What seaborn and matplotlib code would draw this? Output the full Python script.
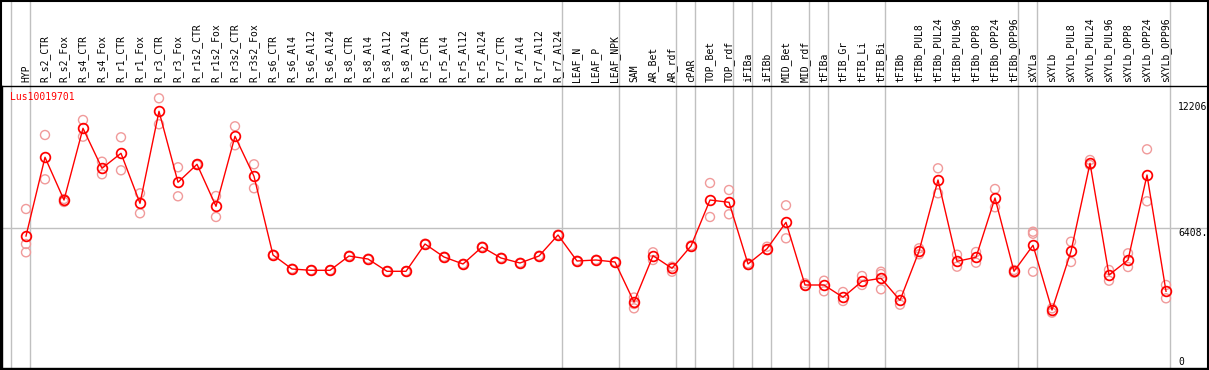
import numpy as np
import pandas as pd
import matplotlib
matplotlib.use("Agg")
import matplotlib.pyplot as plt
from matplotlib.patches import Rectangle
import seaborn as sns

labels = ["HYP", "R_s2_CTR", "R_s2_Fox", "R_s4_CTR", "R_s4_Fox", "R_r1_CTR", "R_r1_Fox",
          "R_r3_CTR", "R_r3_Fox", "R_r1s2_CTR", "R_r1s2_Fox", "R_r3s2_CTR", "R_r3s2_Fox",
          "R_s6_CTR", "R_s6_Al4", "R_s6_Al12", "R_s6_Al24", "R_s8_CTR", "R_s8_Al4",
          "R_s8_Al12", "R_s8_Al24", "R_r5_CTR", "R_r5_Al4", "R_r5_Al12", "R_r5_Al24",
          "R_r7_CTR", "R_r7_Al4", "R_r7_Al12", "R_r7_Al24", "LEAF_N", "LEAF_P", "LEAF_NPK",
          "SAM", "AR_Bet", "AR_rdf", "cPAR", "TOP_Bet", "TOP_rdf", "iFIBa", "iFIBb",
          "MID_Bet", "MID_rdf", "tFIBa", "tFIB_Gr", "tFIB_Li", "tFIB_Bi", "tFIBb",
          "tFIBb_PUL8", "tFIBb_PUL24", "tFIBb_PUL96", "tFIBb_OPP8", "tFIBb_OPP24",
          "tFIBb_OPP96", "sXYLa", "sXYLb", "sXYLb_PUL8", "sXYLb_PUL24", "sXYLb_PUL96",
          "sXYLb_OPP8", "sXYLb_OPP24", "sXYLb_OPP96"]

mean_vals = [6031, 9798, 7754, 11187, 9272, 9990, 7597, 12000, 8602, 9463, 7453, 10804, 8889,
             5122, 4452, 4389, 4389, 5074, 4930, 4342, 4342, 5648, 5026, 4691, 5505,
             4978, 4739, 5074, 6079, 4835, 4882, 4787,
             2872, 5088, 4485, 5553, 7754, 7644, 4691, 5423, 6687, 3686,
             3686, 3097, 3863, 4006, 2953, 5299, 8712, 4820, 5012, 7850, 4342,
             5586, 2489, 5299, 9511, 4164, 4882, 8951, 3384]

rep_vals = [[7324, 5648, 5251], [10866, 8745], [7802, 7659], [11584, 10785], [9588, 8985],
            [10756, 9176], [8075, 7118], [12623, 11378], [9320, 7932], [9478, 9430],
            [7946, 6941], [11282, 10373], [9463, 8315],
            [5100, 5140], [4440, 4465], [4380, 4400], [4375, 4400], [5060, 5090],
            [4915, 4945], [4330, 4355], [4330, 4355], [5630, 5665], [5010, 5040],
            [4680, 4700], [5490, 5520], [4965, 4990], [4725, 4750], [5060, 5090],
            [6065, 6095], [4820, 4850], [4870, 4895], [4775, 4800],
            [3087, 2776, 2570], [5251, 4882], [4562, 4322], [5530, 5580], [8568, 6941],
            [8233, 7070], [4724, 4643], [5519, 5361], [7501, 5921], [3767, 3652],
            [3892, 3384], [3351, 2920], [4117, 3686], [4322, 4212, 3480], [3207, 2743],
            [5442, 5155], [9272, 8075], [5136, 4562], [5265, 4753], [8281, 7405],
            [4404, 4275], [6237, 6141, 4322], [2570, 2360], [5758, 4787], [9669, 9430],
            [4404, 3892], [5203, 4547], [10181, 7692], [3686, 3049]]

# index of last column in each tissue group
group_ends = [0, 28, 31, 34, 35, 37, 38, 39, 41, 42, 45, 52, 53, 60]

gene = "Lus10019701"
y_max = 12206
y_mid = 6408

x = np.arange(len(labels))
df_mean = pd.DataFrame({"x": x, "value": mean_vals})
df_rep = pd.DataFrame([(i, v) for i, vs in enumerate(rep_vals) for v in vs], columns=["x", "value"])

mono = "DejaVu Sans Mono"
W, H = 1209, 370
fig = plt.figure(figsize=(W / 100, H / 100), dpi=100)
ax = fig.add_axes([2 / W, 2 / H, 1206 / W, 282 / H])

# pixel-derived axis limits: 0 -> y=362px, 12206 -> y=107px
ax.set_xlim(-1.263, 62.21)
ax.set_ylim(-287, 13211)

ext = 1 + 86 / 282
for g in [-1] + group_ends:
    ax.axvline(g + 0.22, ymin=0, ymax=ext, color="#c0c0c0", lw=1, clip_on=False, zorder=0)
ax.axhline(y_mid, color="#c0c0c0", lw=1, zorder=0)

sns.scatterplot(data=df_rep, x="x", y="value", ax=ax, marker="o", s=42,
                fc="none", ec="#f09a9a", linewidth=1.0, zorder=2, legend=False)
sns.lineplot(data=df_mean, x="x", y="value", ax=ax, color="red", lw=1.0,
             marker="o", markersize=7, markerfacecolor="none", markeredgecolor="red",
             markeredgewidth=1.25, zorder=3)

ax.set_xticks(x)
ax.set_xticklabels(labels, rotation=90, family=mono, fontsize=7)
ax.tick_params(axis="x", top=False, bottom=False, labeltop=True, labelbottom=False, pad=-0.5)
ax.set_yticks([])
ax.set_xlabel("")
ax.set_ylabel("")
for s in ax.spines.values():
    s.set_color("black")
    s.set_linewidth(1)

lx = (1178 - 26) / 19
ax.text(lx, y_max, str(y_max), family=mono, fontsize=7, va="center", ha="left")
ax.text(lx, y_mid, "%d." % y_mid, family=mono, fontsize=7, va="top", ha="left")
ax.text(lx, 0, "0", family=mono, fontsize=7, va="center", ha="left")
ax.text(-0.84, 12685, gene, family=mono, fontsize=7, color="red", va="center", ha="left")

fig.patches.append(Rectangle((0.5 / W, 0.5 / H), 1 - 1.5 / W, 1 - 1.5 / H,
                             transform=fig.transFigure, fill=False, ec="black", lw=1.5))

fig.savefig("out.png", dpi=100)
